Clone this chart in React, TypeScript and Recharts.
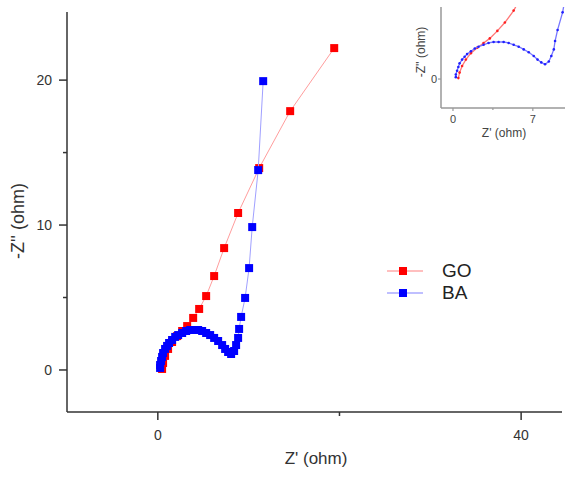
import { ScatterChart, Scatter, XAxis, YAxis, Legend } from 'recharts';

// Nyquist data: Z' (ohm) and -Z'' (ohm)
const goZre = [0.47, 0.58, 0.8, 1.13, 1.57, 2.13, 2.68, 3.23, 3.89, 4.55, 5.32, 6.2, 7.3, 8.84, 11.16, 14.57, 19.42];
const goZim = [0.07, 0.48, 0.97, 1.45, 1.93, 2.34, 2.69, 3.03, 3.59, 4.21, 5.1, 6.48, 8.41, 10.83, 13.93, 17.86, 22.21];

const baZre = [0.25, 0.25, 0.36, 0.47, 0.58, 0.8, 1.02, 1.24, 1.57, 1.91, 2.24, 2.68, 3.12, 3.56, 4.0, 4.44, 4.88, 5.32, 5.76, 6.2, 6.64, 7.08, 7.41, 7.74, 8.07, 8.4, 8.62, 8.84, 8.95, 9.17, 9.61, 10.05, 10.39, 11.05, 11.6];
const baZim = [0.14, 0.34, 0.62, 0.9, 1.17, 1.45, 1.66, 1.86, 2.07, 2.28, 2.41, 2.55, 2.69, 2.76, 2.76, 2.76, 2.69, 2.55, 2.41, 2.21, 2.0, 1.72, 1.45, 1.24, 1.1, 1.31, 1.72, 2.21, 2.83, 3.66, 4.97, 7.03, 9.86, 13.79, 19.93];

const seriesNames = ['GO', 'BA'];
const mainXTicks = [0, 20, 40];
const mainYTicks = [0, 5, 10, 15, 20];
const insetXTicks = [0, 3.5, 7];
const insetYTicks = [0];

const goData = goZre.map((x, i) => ({ x, y: goZim[i] }));
const baData = baZre.map((x, i) => ({ x, y: baZim[i] }));

const font = '"Liberation Sans", Arial, sans-serif';

function MainXTick(props: any) {
  const { x, y, payload } = props;
  const major = payload.value % 40 === 0;
  return (
    <g>
      <line x1={x} x2={x} y1={y} y2={y + (major ? 8 : 4)} stroke="#333" strokeWidth={1.5} />
      {major && (
        <text x={x} y={y + 28} textAnchor="middle" fontSize={14} fill="#333" fontFamily={font}>
          {payload.value}
        </text>
      )}
    </g>
  );
}

function MainYTick(props: any) {
  const { x, y, payload } = props;
  const major = payload.value % 10 === 0;
  return (
    <g>
      <line x1={x - (major ? 8 : 4)} x2={x} y1={y} y2={y} stroke="#333" strokeWidth={1.5} />
      {major && (
        <text x={x - 15} y={y + 5} textAnchor="end" fontSize={14} fill="#333" fontFamily={font}>
          {payload.value}
        </text>
      )}
    </g>
  );
}

function InsetXTick(props: any) {
  const { x, y, payload } = props;
  const major = payload.value === 0 || payload.value === 7;
  return (
    <g>
      <line x1={x} x2={x} y1={y} y2={y + (major ? 3 : 2)} stroke="#999" strokeWidth={1.2} />
      {major && (
        <text x={x} y={y + 15} textAnchor="middle" fontSize={11} fill="#444" fontFamily={font}>
          {payload.value}
        </text>
      )}
    </g>
  );
}

function InsetYTick(props: any) {
  const { x, y, payload } = props;
  return (
    <g>
      <line x1={x - 3} x2={x} y1={y} y2={y} stroke="#999" strokeWidth={1.2} />
      <text x={x - 4} y={y + 4} textAnchor="end" fontSize={11} fill="#444" fontFamily={font}>
        {payload.value}
      </text>
    </g>
  );
}

function LegendBox(props: any) {
  const items = [...(props.payload || [])].sort(
    (a: any, b: any) => seriesNames.indexOf(a.value) - seriesNames.indexOf(b.value)
  );
  return (
    <div style={{ fontFamily: font }}>
      {items.map((it: any) => {
        const dark = it.color;
        const light = it.value === 'GO' ? '#ffaaaa' : '#aaaaff';
        return (
          <div key={it.value} style={{ display: 'flex', alignItems: 'center', height: 22 }}>
            <svg width={42} height={22}>
              <line x1={4} x2={40} y1={11} y2={11} stroke={light} strokeWidth={1.5} />
              <rect x={16} y={7} width={8} height={8} fill={dark} />
            </svg>
            <span style={{ marginLeft: 17, fontSize: 19, color: '#222', lineHeight: '22px' }}>{it.value}</span>
          </div>
        );
      })}
    </div>
  );
}

const dotShape = (color: string) => (p: any) => <circle cx={p.cx} cy={p.cy} r={1.3} fill={color} />;

export default function App() {
  return (
    <div style={{ position: 'absolute', left: 0, top: 0, width: 565, height: 479, background: '#fff' }}>
      <ScatterChart width={565} height={479} margin={{ top: 12, right: 3, bottom: 27, left: 10 }}>
        <XAxis
          type="number"
          dataKey="x"
          domain={[-10, 44.5]}
          ticks={mainXTicks}
          height={40}
          tickSize={0}
          tickMargin={0}
          tickLine={false}
          axisLine={{ stroke: '#333', strokeWidth: 1.5 }}
          tick={<MainXTick />}
          label={{
            content: () => (
              <text x={316} y={464} textAnchor="middle" fontSize={17} fill="#333" fontFamily={font}>
                Z' (ohm)
              </text>
            ),
          }}
        />
        <YAxis
          type="number"
          dataKey="y"
          domain={[-2.9, 24.7]}
          ticks={mainYTicks}
          width={57}
          tickSize={0}
          tickMargin={0}
          tickLine={false}
          axisLine={{ stroke: '#333', strokeWidth: 1.5 }}
          tick={<MainYTick />}
          label={{
            content: () => (
              <text
                x={24}
                y={221}
                transform="rotate(-90 24 221)"
                textAnchor="middle"
                fontSize={18}
                fill="#333"
                fontFamily={font}
              >
                -Z'' (ohm)
              </text>
            ),
          }}
        />
        <Legend
          layout="vertical"
          verticalAlign="middle"
          align="center"
          wrapperStyle={{ left: 383, top: 260, width: 120 }}
          content={<LegendBox />}
        />
        <Scatter
          name={seriesNames[0]}
          data={goData}
          fill="#ff0000"
          shape="square"
          line={{ stroke: '#ff9d9d', strokeWidth: 1 }}
          isAnimationActive={false}
        />
        <Scatter
          name={seriesNames[1]}
          data={baData}
          fill="#0000ff"
          shape="square"
          line={{ stroke: '#a0a0ff', strokeWidth: 1 }}
          isAnimationActive={false}
        />
      </ScatterChart>

      <div style={{ position: 'absolute', left: 400, top: 0 }}>
        <ScatterChart width={165} height={145} margin={{ top: 7, right: 0, bottom: 7, left: 11 }}>
          <XAxis
            type="number"
            dataKey="x"
            domain={[-1.05, 9.82]}
            allowDataOverflow
            ticks={insetXTicks}
            height={30}
            tickSize={0}
            tickMargin={0}
            tickLine={false}
            axisLine={{ stroke: '#999', strokeWidth: 1.5 }}
            tick={<InsetXTick />}
            label={{
              content: () => (
                <text x={104} y={137} textAnchor="middle" fontSize={12} fill="#444" fontFamily={font}>
                  Z' (ohm)
                </text>
              ),
            }}
          />
          <YAxis
            type="number"
            dataKey="y"
            domain={[-2.16, 5.37]}
            allowDataOverflow
            ticks={insetYTicks}
            width={30}
            tickSize={0}
            tickMargin={0}
            tickLine={false}
            axisLine={{ stroke: '#999', strokeWidth: 1.5 }}
            tick={<InsetYTick />}
            label={{
              content: () => (
                <text
                  x={25}
                  y={52}
                  transform="rotate(-90 25 52)"
                  textAnchor="middle"
                  fontSize={12}
                  fill="#444"
                  fontFamily={font}
                >
                  -Z'' (ohm)
                </text>
              ),
            }}
          />
          <Scatter
            name={seriesNames[0]}
            data={goData}
            fill="#ff2020"
            shape={dotShape('#ff2020')}
            line={{ stroke: '#ff7777', strokeWidth: 1.3 }}
            isAnimationActive={false}
          />
          <Scatter
            name={seriesNames[1]}
            data={baData}
            fill="#2020ff"
            shape={dotShape('#2020ff')}
            line={{ stroke: '#7777ff', strokeWidth: 1.3 }}
            isAnimationActive={false}
          />
        </ScatterChart>
      </div>
    </div>
  );
}
